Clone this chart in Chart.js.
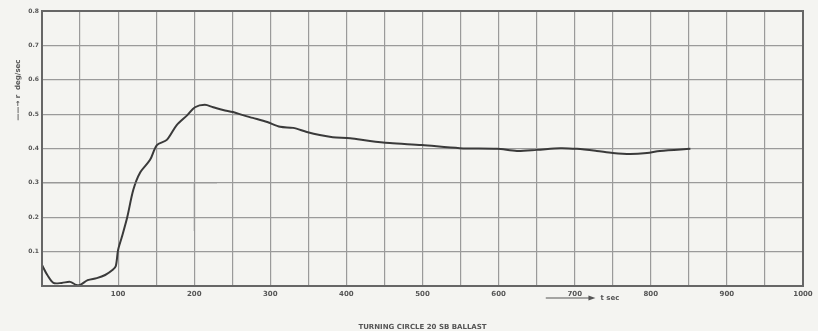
<!DOCTYPE html>
<html>
<head>
<meta charset="utf-8">
<script src="https://cdn.jsdelivr.net/npm/chart.js@4"></script>
<style>
  html, body { margin: 0; padding: 0; background: #f4f4f1; }
  #wrap { position: relative; width: 818px; height: 331px; }
</style>
</head>
<body>
<div id="wrap"><canvas id="chart" width="818" height="331"></canvas></div>
<script>
// temps (s) et taux de giration (deg/s)
const timeSec = [0, 7, 15, 26, 37, 45, 50, 60, 72, 83, 93, 97, 100, 105, 112, 120, 129, 142, 151, 164, 177, 191, 201, 214, 225, 238, 251, 264, 277, 296, 313, 330, 348, 365, 382, 405, 431, 457, 499, 549, 598, 624, 650, 681, 703, 729, 750, 773, 795, 812, 852];
const rateDeg = [0.061, 0.032, 0.009, 0.009, 0.012, 0.003, 0.003, 0.017, 0.023, 0.032, 0.047, 0.058, 0.105, 0.143, 0.2, 0.28, 0.33, 0.367, 0.41, 0.425, 0.468, 0.497, 0.52, 0.527, 0.52, 0.512, 0.506, 0.497, 0.489, 0.477, 0.463, 0.46, 0.448, 0.439, 0.433, 0.43, 0.422, 0.416, 0.41, 0.401, 0.399, 0.393, 0.396, 0.401, 0.399, 0.393, 0.387, 0.384, 0.387, 0.393, 0.399];

// traits de construction au crayon
const guideH = [{ x: 0, y: 0.3 }, { x: 230, y: 0.3 }];
const guideV = [{ x: 200, y: 0.16 }, { x: 200, y: 0.3 }];

const xTicks = [100, 200, 300, 400, 500, 600, 700, 800, 900, 1000];
const yTicks = [0.1, 0.2, 0.3, 0.4, 0.5, 0.6, 0.7, 0.8];

const chartTitle = 'TURNING CIRCLE 20 SB BALLAST';
const yTitle = '\u2014\u2014\u2192 r  deg/sec';
const xArrowText = 't sec';

// fleche "t sec" sous l'axe et titre vertical
const labels = {
  id: 'labels',
  afterDraw(chart) {
    const { ctx, scales } = chart;
    const x0 = scales.x.getPixelForValue(662);
    const x1 = scales.x.getPixelForValue(722);
    const y = scales.y.bottom + 12;
    ctx.save();
    ctx.strokeStyle = '#555';
    ctx.fillStyle = '#555';
    ctx.lineWidth = 1.2;
    ctx.beginPath();
    ctx.moveTo(x0, y);
    ctx.lineTo(x1, y);
    ctx.stroke();
    ctx.beginPath();
    ctx.moveTo(x1 + 4, y);
    ctx.lineTo(x1 - 3, y - 2.5);
    ctx.lineTo(x1 - 3, y + 2.5);
    ctx.closePath();
    ctx.fill();
    ctx.font = 'bold 7px "DejaVu Sans"';
    ctx.textBaseline = 'middle';
    ctx.fillText(xArrowText, x1 + 9, y);

    // titre de l'axe y, lu de bas en haut
    ctx.translate(18, scales.y.getPixelForValue(0.57));
    ctx.rotate(-Math.PI / 2);
    ctx.textAlign = 'center';
    ctx.fillText(yTitle, 0, 0);
    ctx.restore();
  }
};

new Chart(document.getElementById('chart'), {
  type: 'line',
  data: {
    datasets: [
      {
        data: guideH,
        borderColor: 'rgba(150,150,150,0.45)',
        borderWidth: 1.5,
        pointRadius: 0
      },
      {
        data: guideV,
        borderColor: 'rgba(150,150,150,0.45)',
        borderWidth: 1.5,
        pointRadius: 0
      },
      {
        data: timeSec.map((t, i) => ({ x: t, y: rateDeg[i] })),
        borderColor: '#3a3a3a',
        borderWidth: 2,
        pointRadius: 0,
        tension: 0.3,
        fill: false
      }
    ]
  },
  options: {
    responsive: false,
    animation: false,
    layout: { padding: { left: 0, top: 11, right: 15, bottom: 0 } },
    plugins: {
      legend: { display: false },
      tooltip: { enabled: false }
    },
    scales: {
      x: {
        type: 'linear',
        min: 0,
        max: 1000,
        border: { color: '#666', width: 2 },
        grid: { color: '#9a9a9a', lineWidth: 1.2, drawTicks: false },
        ticks: {
          stepSize: 50,
          autoSkip: false,
          maxRotation: 0,
          padding: 4,
          color: '#555',
          font: { family: 'DejaVu Sans', size: 7, weight: 'bold' },
          callback: v => xTicks.includes(v) ? String(v) : ''
        },
        title: {
          display: true,
          text: chartTitle,
          color: '#555',
          font: { family: 'DejaVu Sans', size: 7, weight: 'bold' },
          padding: { top: 11, bottom: 0 }
        },
        afterFit: s => { s.height = 45; }
      },
      y: {
        min: 0,
        max: 0.8,
        border: { color: '#666', width: 2 },
        grid: { color: '#9a9a9a', lineWidth: 1.2, drawTicks: false },
        ticks: {
          stepSize: 0.1,
          padding: 3,
          color: '#555',
          font: { family: 'DejaVu Sans', size: 6, weight: 'bold' },
          callback: v => {
            const r = Math.round(v * 10) / 10;
            return yTicks.includes(r) ? r.toFixed(1) : '';
          }
        },
        afterFit: s => { s.width = 42; }
      }
    }
  },
  plugins: [labels, {
    id: 'frame',
    afterDraw(chart) {
      const { ctx, chartArea: a } = chart;
      ctx.save();
      ctx.strokeStyle = '#666';
      ctx.lineWidth = 2;
      ctx.strokeRect(a.left, a.top, a.right - a.left, a.bottom - a.top);
      ctx.restore();
    }
  }]
});
</script>
</body>
</html>
